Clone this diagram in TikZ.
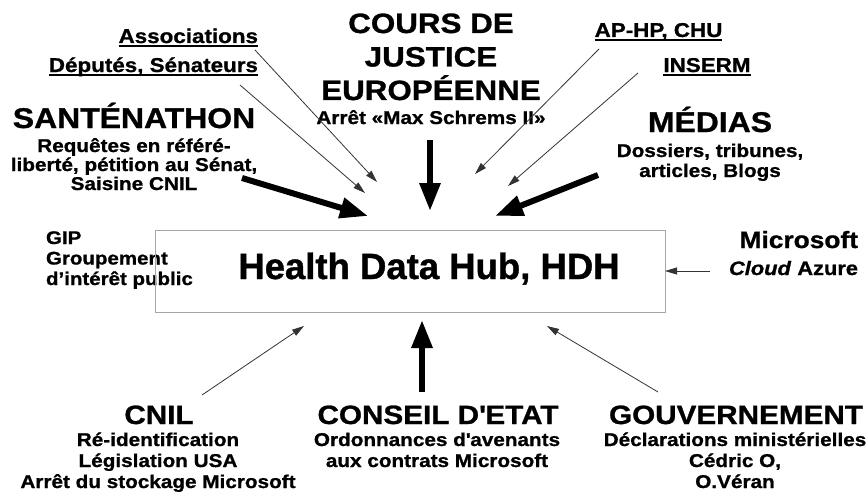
\documentclass[tikz,border=0pt]{standalone}
\usepackage{fontspec}
\setmainfont{Liberation Sans}[FakeStretch=1.12,FakeBold=1]
\newfontfamily\hdhfont{Liberation Sans}[FakeBold=1]
\usetikzlibrary{arrows.meta,calc}
\newcommand\ml[1]{\vtop{\lineskip=0pt\lineskiplimit=-50pt\halign{\hfil##\hfil\cr#1\crcr}}}
\newcommand\mll[1]{\vtop{\lineskip=0pt\lineskiplimit=-50pt\halign{##\hfil\cr#1\crcr}}}
\newcommand\fs[2]{\fontsize{#1}{#2}\selectfont}
\begin{document}
\begin{tikzpicture}[x=1pt,y=-1pt,
  txt/.style={inner sep=0pt,outer sep=0pt,anchor=base},
  lab/.style={txt,font=\bfseries\fs{20}{24}},
  ttl/.style={txt,font=\bfseries\fs{28.5}{33}},
  btl/.style={txt,font=\bfseries\fs{26.5}{30}},
  sub/.style={txt,font=\bfseries\fs{18.5}{#1}},
  sub/.default=20,
  thinarr/.style={draw=black!80,line width=0.8pt,-{Triangle[length=12pt,width=7pt]}},
  thickarr/.style={draw=black,line width=6pt,-{Triangle[length=28pt,width=20pt]}},
  ul/.style={line width=1.4pt}]
\useasboundingbox (0,0) rectangle (867,495);

% top left labels
\node[lab,anchor=base east] (assoc) at (258,43) {Associations};
\node[lab,anchor=base east] (deput) at (258,72) {Députés, Sénateurs};
\draw[ul] ($(assoc.base west)+(0,3)$) -- ($(assoc.base east)+(0,3)$);
\draw[ul] ($(deput.base west)+(0,3)$) -- ($(deput.base east)+(0,3)$);

% Santenathon
\node[ttl] (santeT) at (134,128) {SANTÉNATHON};
\node[sub=19] (santeS) at (134,152) {\ml{Requêtes en référé-\cr liberté, pétition au Sénat,\cr Saisine CNIL}};

% Cour de justice
\node[txt,font=\bfseries\fs{28}{33.5}] (cjeT) at (431,33) {\ml{COURS DE\cr JUSTICE\cr EUROPÉENNE}};
\node[sub] (cjeS) at (431,124) {Arrêt «Max Schrems II»};

% top right labels
\node[lab] (aphp) at (658.5,37) {AP-HP, CHU};
\node[lab] (inserm) at (707,72) {INSERM};
\draw[ul] ($(aphp.base west)+(0,3)$) -- ($(aphp.base east)+(0,3)$);
\draw[ul] ($(inserm.base west)+(0,3)$) -- ($(inserm.base east)+(0,3)$);

% Medias
\node[ttl] (medT) at (710,132) {MÉDIAS};
\node[sub=20] (medS) at (710,157) {\ml{Dossiers, tribunes,\cr articles, Blogs}};

% GIP
\node[txt,anchor=base west,font=\bfseries\fs{18.3}{20.5}] (gip) at (46,244) {\mll{GIP\cr Groupement\cr d’intérêt public}};

% HDH box
\node[draw=black!35,line width=1pt,minimum width=510pt,minimum height=82pt,inner sep=0pt] (hdh) at (410,271) {};
\node[txt,font=\hdhfont\bfseries\fs{36.5}{40}] (hdhT) at (429,279) {Health Data Hub, HDH};

% Microsoft
\node[txt,anchor=base east,font=\bfseries\fs{23.5}{26}] (ms) at (858,248) {Microsoft};
\node[txt,anchor=base east,font=\bfseries\fs{19.5}{22}] (az) at (858,275) {\textit{Cloud} Azure};

% bottom
\node[btl] (cnilT) at (159,424) {CNIL};
\node[sub=21] (cnilS) at (158,446) {\ml{Ré-identification\cr Législation USA\cr Arrêt du stockage Microsoft}};
\node[btl] (ceT) at (438,424) {CONSEIL D\textquotesingle ETAT};
\node[sub=21] (ceS) at (437,446) {\ml{Ordonnances d\textquotesingle avenants\cr aux contrats Microsoft}};
\node[btl] (gvT) at (736,424) {GOUVERNEMENT};
\node[sub=21] (gvS) at (735,446) {\ml{Déclarations ministérielles\cr Cédric O,\cr O.Véran}};

% arrow end points
\coordinate (assocS) at (255,50);  \coordinate (assocE) at (377,182);
\coordinate (deputS) at (240,85);  \coordinate (deputE) at (365,193);
\coordinate (santeA) at (242,178); \coordinate (santeE) at (368,216);
\coordinate (cjeA) at (430,140);   \coordinate (cjeE) at (430,211);
\coordinate (aphpS) at (599,49);   \coordinate (aphpE) at (475,174);
\coordinate (insS) at (638,73);    \coordinate (insE) at (508,186);
\coordinate (medA) at (598,175);   \coordinate (medE) at (495,216);
\coordinate (msA) at (710,271);    \coordinate (msE) at (665,271);
\coordinate (cnilA) at (202,395);  \coordinate (cnilE) at (304,326);
\coordinate (ceA) at (422,392);    \coordinate (ceE) at (422,320);
\coordinate (gvA) at (658,392);    \coordinate (gvE) at (547,326);

\draw[thinarr] (assocS) -- (assocE);
\draw[thinarr] (deputS) -- (deputE);
\draw[thinarr] (aphpS) -- (aphpE);
\draw[thinarr] (insS) -- (insE);
\draw[thinarr] (msA) -- (msE);
\draw[thinarr] (cnilA) -- (cnilE);
\draw[thinarr] (gvA) -- (gvE);
\draw[thickarr] (santeA) -- (santeE);
\draw[thickarr] (cjeA) -- (cjeE);
\draw[thickarr] (medA) -- (medE);
\draw[thickarr] (ceA) -- (ceE);
\end{tikzpicture}
\end{document}
